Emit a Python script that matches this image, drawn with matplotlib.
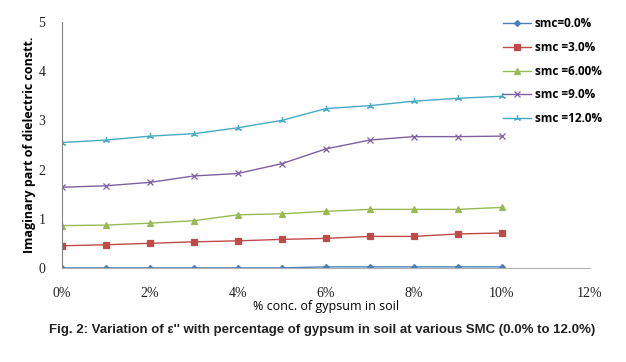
import matplotlib
matplotlib.use("Agg")
import matplotlib.pyplot as plt

# data
gypsum = [0, 1, 2, 3, 4, 5, 6, 7, 8, 9, 10]
smc_0 = [0.00, 0.00, 0.00, 0.00, 0.00, 0.00, 0.02, 0.02, 0.02, 0.02, 0.02]
smc_3 = [0.45, 0.47, 0.50, 0.53, 0.55, 0.58, 0.60, 0.64, 0.64, 0.69, 0.71]
smc_6 = [0.86, 0.87, 0.91, 0.96, 1.08, 1.10, 1.15, 1.19, 1.19, 1.19, 1.23]
smc_9 = [1.64, 1.67, 1.74, 1.87, 1.92, 2.12, 2.42, 2.60, 2.67, 2.67, 2.68]
smc_12 = [2.55, 2.60, 2.68, 2.73, 2.85, 3.00, 3.24, 3.30, 3.39, 3.45, 3.49]

labels = ["smc=0.0%", "smc =3.0%", "smc =6.00%", "smc =9.0%", "smc =12.0%"]
x_ticks = [0, 2, 4, 6, 8, 10, 12]
x_ticklabels = ["0%", "2%", "4%", "6%", "8%", "10%", "12%"]
y_ticks = [0, 1, 2, 3, 4, 5]

series = [smc_0, smc_3, smc_6, smc_9, smc_12]
colors = ["#4A7EBB", "#BE4B48", "#98B954", "#7D60A0", "#46AAC5"]
markers = ["D", "s", "^", "x", (3, 2, 0)]
msizes = [3, 4.5, 4, 4.5, 5]

fig = plt.figure(figsize=(6.26, 3.62), dpi=100)
ax = fig.add_axes([0.099, 0.26, 0.843, 0.679])

for vals, lab, c, m, ms in zip(series, labels, colors, markers, msizes):
    ax.plot(gypsum, vals, color=c, marker=m, markersize=ms, lw=1.0,
            markeredgewidth=0.9, label=lab)

ax.set_xlim(0, 12)
ax.set_ylim(0, 5)
ax.set_xticks(x_ticks)
ax.set_xticklabels(x_ticklabels)
ax.set_yticks(y_ticks)

for lbl in ax.get_xticklabels() + ax.get_yticklabels():
    lbl.set_fontfamily("Liberation Serif")
    lbl.set_fontsize(10)
    lbl.set_color("#222222")

ax.tick_params(axis="both", length=0)
ax.tick_params(axis="x", pad=14)
ax.tick_params(axis="y", pad=12)

ax.spines["top"].set_visible(False)
ax.spines["right"].set_visible(False)
ax.spines["left"].set_color("#808080")
ax.spines["bottom"].set_color("#b0b0b0")

ax.set_ylabel("Imaginary part of dielectric constt.", fontsize=9,
              fontweight="bold", family="Open Sans", labelpad=2)
ax.set_xlabel("% conc. of gypsum in soil", fontsize=9, family="Open Sans",
              labelpad=0)

leg = ax.legend(loc="upper left", bbox_to_anchor=(0.815, 1.062), frameon=False,
                prop={"family": "Open Sans", "weight": "bold", "size": 8.5},
                handlelength=2.4, labelspacing=0.9, handletextpad=0.3)

fig.text(0.515, 0.088,
         "Fig. 2: Variation of \u03b5'' with percentage of gypsum in soil at various SMC (0.0% to 12.0%)",
         ha="center", va="center", fontsize=9.5, fontweight="bold",
         family="Liberation Sans", color="#222222")

fig.savefig("out.png", dpi=100)
